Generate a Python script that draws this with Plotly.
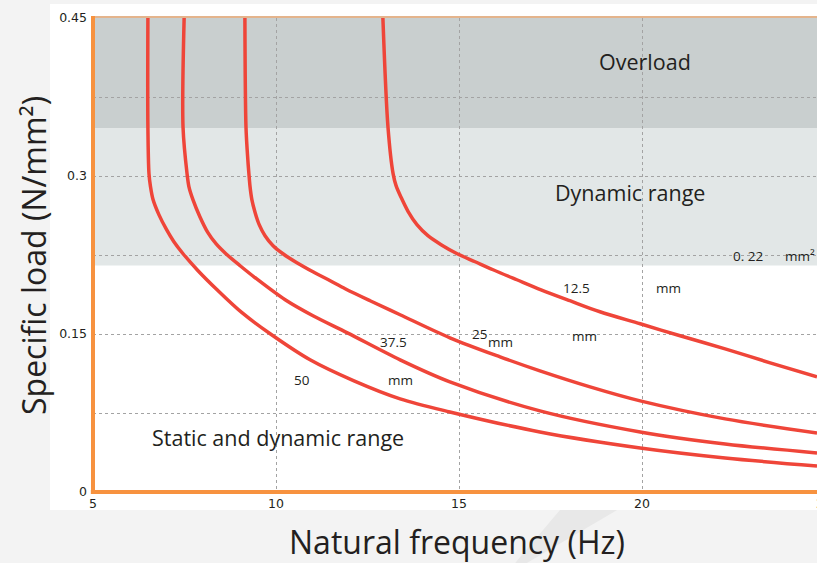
import plotly.graph_objects as go

# ---------------- data ----------------
thickness_labels = ["50 mm", "37.5 mm", "25 mm", "12.5 mm"]

freq_50 = [6.50, 6.50, 6.53, 6.57, 6.64, 6.80, 7.01, 7.21, 7.46, 7.87, 8.39, 9.07, 9.84, 10.93,
           12.13, 13.39, 14.75, 17.21, 19.95, 22.27, 24.78]
load_50 = [0.450, 0.346, 0.302, 0.290, 0.2776, 0.2633, 0.249, 0.2376, 0.2262, 0.2101, 0.192, 0.1702, 0.1502, 0.1255,
           0.1055, 0.0884, 0.076, 0.057, 0.0418, 0.0323, 0.0247]

freq_375 = [7.49, 7.46, 7.57, 7.62, 7.73, 7.92, 8.14, 8.36, 8.63, 9.02, 9.43, 10.25, 11.01, 11.95,
            13.39, 14.75, 17.21, 19.95, 22.27, 24.78]
load_375 = [0.450, 0.346, 0.302, 0.290, 0.2776, 0.2614, 0.2462, 0.2357, 0.2262, 0.2148, 0.2034, 0.1825, 0.1673, 0.1511,
            0.1255, 0.1046, 0.077, 0.057, 0.0456, 0.0371]

freq_25 = [9.15, 9.18, 9.23, 9.26, 9.29, 9.34, 9.43, 9.54, 9.70, 9.92, 10.19, 10.57, 11.01, 11.48, 11.89,
           12.57, 13.39, 14.75, 16.12, 17.21, 18.58, 19.95, 22.27, 24.78]
load_25 = [0.450, 0.346, 0.3156, 0.302, 0.290, 0.2776, 0.2652, 0.2538, 0.2433, 0.2338, 0.2262, 0.2177, 0.2091, 0.2006, 0.193,
           0.1816, 0.1683, 0.1464, 0.1283, 0.115, 0.0998, 0.0865, 0.0694, 0.0561]

freq_125 = [12.92, 13.06, 13.20, 13.28, 13.42, 13.61, 13.85, 14.15, 14.51, 14.95, 15.44, 15.93, 16.58, 17.24,
            18.03, 18.85, 19.95, 21.04, 22.27, 23.50, 24.78]
load_125 = [0.450, 0.346, 0.302, 0.2909, 0.2795, 0.2662, 0.2538, 0.2433, 0.2348, 0.2262, 0.2186, 0.211, 0.2015, 0.192,
            0.1816, 0.1711, 0.1597, 0.1483, 0.1359, 0.1226, 0.1093]

overload_min = 0.345
dynamic_min = 0.215
load_max = 0.45

y_tickvals = [0, 0.075, 0.15, 0.225, 0.3, 0.375, 0.45]
y_ticktext = ["0", "", "0.15", "", "0.3", "", "0.45"]
x_tickvals = [5, 10, 15, 20, 25]
x_ticktext = ["5", "10", "15", "20", "25"]

region_labels = ["Overload", "Dynamic range", "Static and dynamic range"]
region_x = [20.08, 19.67, 10.05]
region_y = [0.409, 0.284, 0.052]

small_labels = ["0. 22", "mm²", "12.5", "mm", "mm", "25", "mm", "37.5", "50", "mm"]
small_x = [22.9, 24.32, 18.2, 20.71, 18.44, 15.57, 16.12, 13.2, 10.71, 13.39]
small_y = [0.224, 0.224, 0.194, 0.194, 0.148, 0.150, 0.142, 0.142, 0.1065, 0.1065]

# ---------------- figure ----------------
RED = "#ef4539"
ORANGE = "#f7923f"
TXT = "#231f20"
FONT = "Open Sans"
TICKFONT = "DejaVu Sans"

fig = go.Figure()
for fx, fy, name in [(freq_50, load_50, thickness_labels[0]),
                     (freq_375, load_375, thickness_labels[1]),
                     (freq_25, load_25, thickness_labels[2]),
                     (freq_125, load_125, thickness_labels[3])]:
    fig.add_trace(go.Scatter(x=fx, y=fy, mode="lines", name=name,
                             line=dict(color=RED, width=3.5, shape="spline", smoothing=0.9),
                             showlegend=False, hoverinfo="skip", cliponaxis=True))

shapes = []
# white panel behind the chart
shapes.append(dict(type="rect", xref="paper", yref="paper", x0=-0.0594, x1=1.02, y0=-0.038, y1=1.0295,
                   fillcolor="white", line=dict(width=0), layer="below"))
# faint diagonal stripe in the background
shapes.append(dict(type="path", xref="paper", yref="paper",
                   path="M 0.645,-0.038 L 0.724,-0.038 L 0.599,-0.150 L 0.583,-0.150 Z",
                   fillcolor="#e8e8e8", line=dict(width=0), layer="below"))
# regions
shapes.append(dict(type="rect", xref="paper", yref="y", x0=0, x1=1, y0=overload_min, y1=load_max,
                   fillcolor="#c9cfcf", line=dict(width=0), layer="below"))
shapes.append(dict(type="rect", xref="paper", yref="y", x0=0, x1=1, y0=dynamic_min, y1=overload_min,
                   fillcolor="#e2e7e7", line=dict(width=0), layer="below"))
# axis lines
shapes.append(dict(type="line", xref="paper", yref="paper", x0=0, x1=1.01, y0=1.002, y1=1.002,
                   line=dict(color="#e4b48c", width=2), layer="above"))
shapes.append(dict(type="line", xref="paper", yref="paper", x0=0, x1=0, y0=-0.004, y1=1.004,
                   line=dict(color=ORANGE, width=4), layer="above"))
shapes.append(dict(type="line", xref="paper", yref="paper", x0=-0.003, x1=1.01, y0=0, y1=0,
                   line=dict(color=ORANGE, width=4), layer="above"))

annotations = []
for t, x, y in zip(region_labels, region_x, region_y):
    annotations.append(dict(text=t, x=x, y=y, xref="x", yref="y", showarrow=False,
                            xanchor="center", yanchor="middle",
                            font=dict(family=FONT, size=21.5, color=TXT)))
for t, x, y in zip(small_labels, small_x, small_y):
    annotations.append(dict(text=t, x=x, y=y, xref="x", yref="y", showarrow=False,
                            xanchor="center", yanchor="middle",
                            font=dict(family=FONT, size=13.5, color=TXT)))
# partially visible last x tick label
annotations.append(dict(text=x_ticktext[-1], x=1.0097, y=-0.025, xref="paper", yref="paper",
                        showarrow=False, xanchor="center", yanchor="middle",
                        font=dict(family=TICKFONT, size=12.5, color=TXT)))
# axis titles
annotations.append(dict(text="Specific load (N/mm²)", x=-0.0829, y=0.5, xref="paper", yref="paper",
                        showarrow=False, textangle=-90, xanchor="center", yanchor="middle",
                        font=dict(family=FONT, size=32, color=TXT)))
annotations.append(dict(text="Natural frequency (Hz)", x=0.503, y=-0.105, xref="paper", yref="paper",
                        showarrow=False, xanchor="center", yanchor="middle",
                        font=dict(family=FONT, size=32, color=TXT)))

fig.update_layout(
    width=817, height=563,
    margin=dict(l=93, r=0, t=18, b=71),
    paper_bgcolor="#f3f3f3",
    plot_bgcolor="rgba(0,0,0,0)",
    shapes=shapes,
    annotations=annotations,
    font=dict(family=FONT, size=12, color=TXT),
    xaxis=dict(range=[5, 24.78], tickvals=x_tickvals[:-1], ticktext=x_ticktext[:-1],
               showgrid=True, gridcolor="#a3a3a3", griddash="dot", gridwidth=1,
               zeroline=False, showline=False, ticks="", ticklabelstandoff=2,
               tickfont=dict(family=TICKFONT, size=12.5, color=TXT)),
    yaxis=dict(range=[0, load_max], tickvals=y_tickvals, ticktext=y_ticktext,
               showgrid=True, gridcolor="#a3a3a3", griddash="dot", gridwidth=1,
               zeroline=False, showline=False, ticks="", ticklabelstandoff=5,
               tickfont=dict(family=TICKFONT, size=12.5, color=TXT)),
)

fig.write_html("out.html",
               config={"displayModeBar": False, "staticPlot": True},
               post_script="document.body.style.margin='0';document.body.style.overflow='hidden';")
